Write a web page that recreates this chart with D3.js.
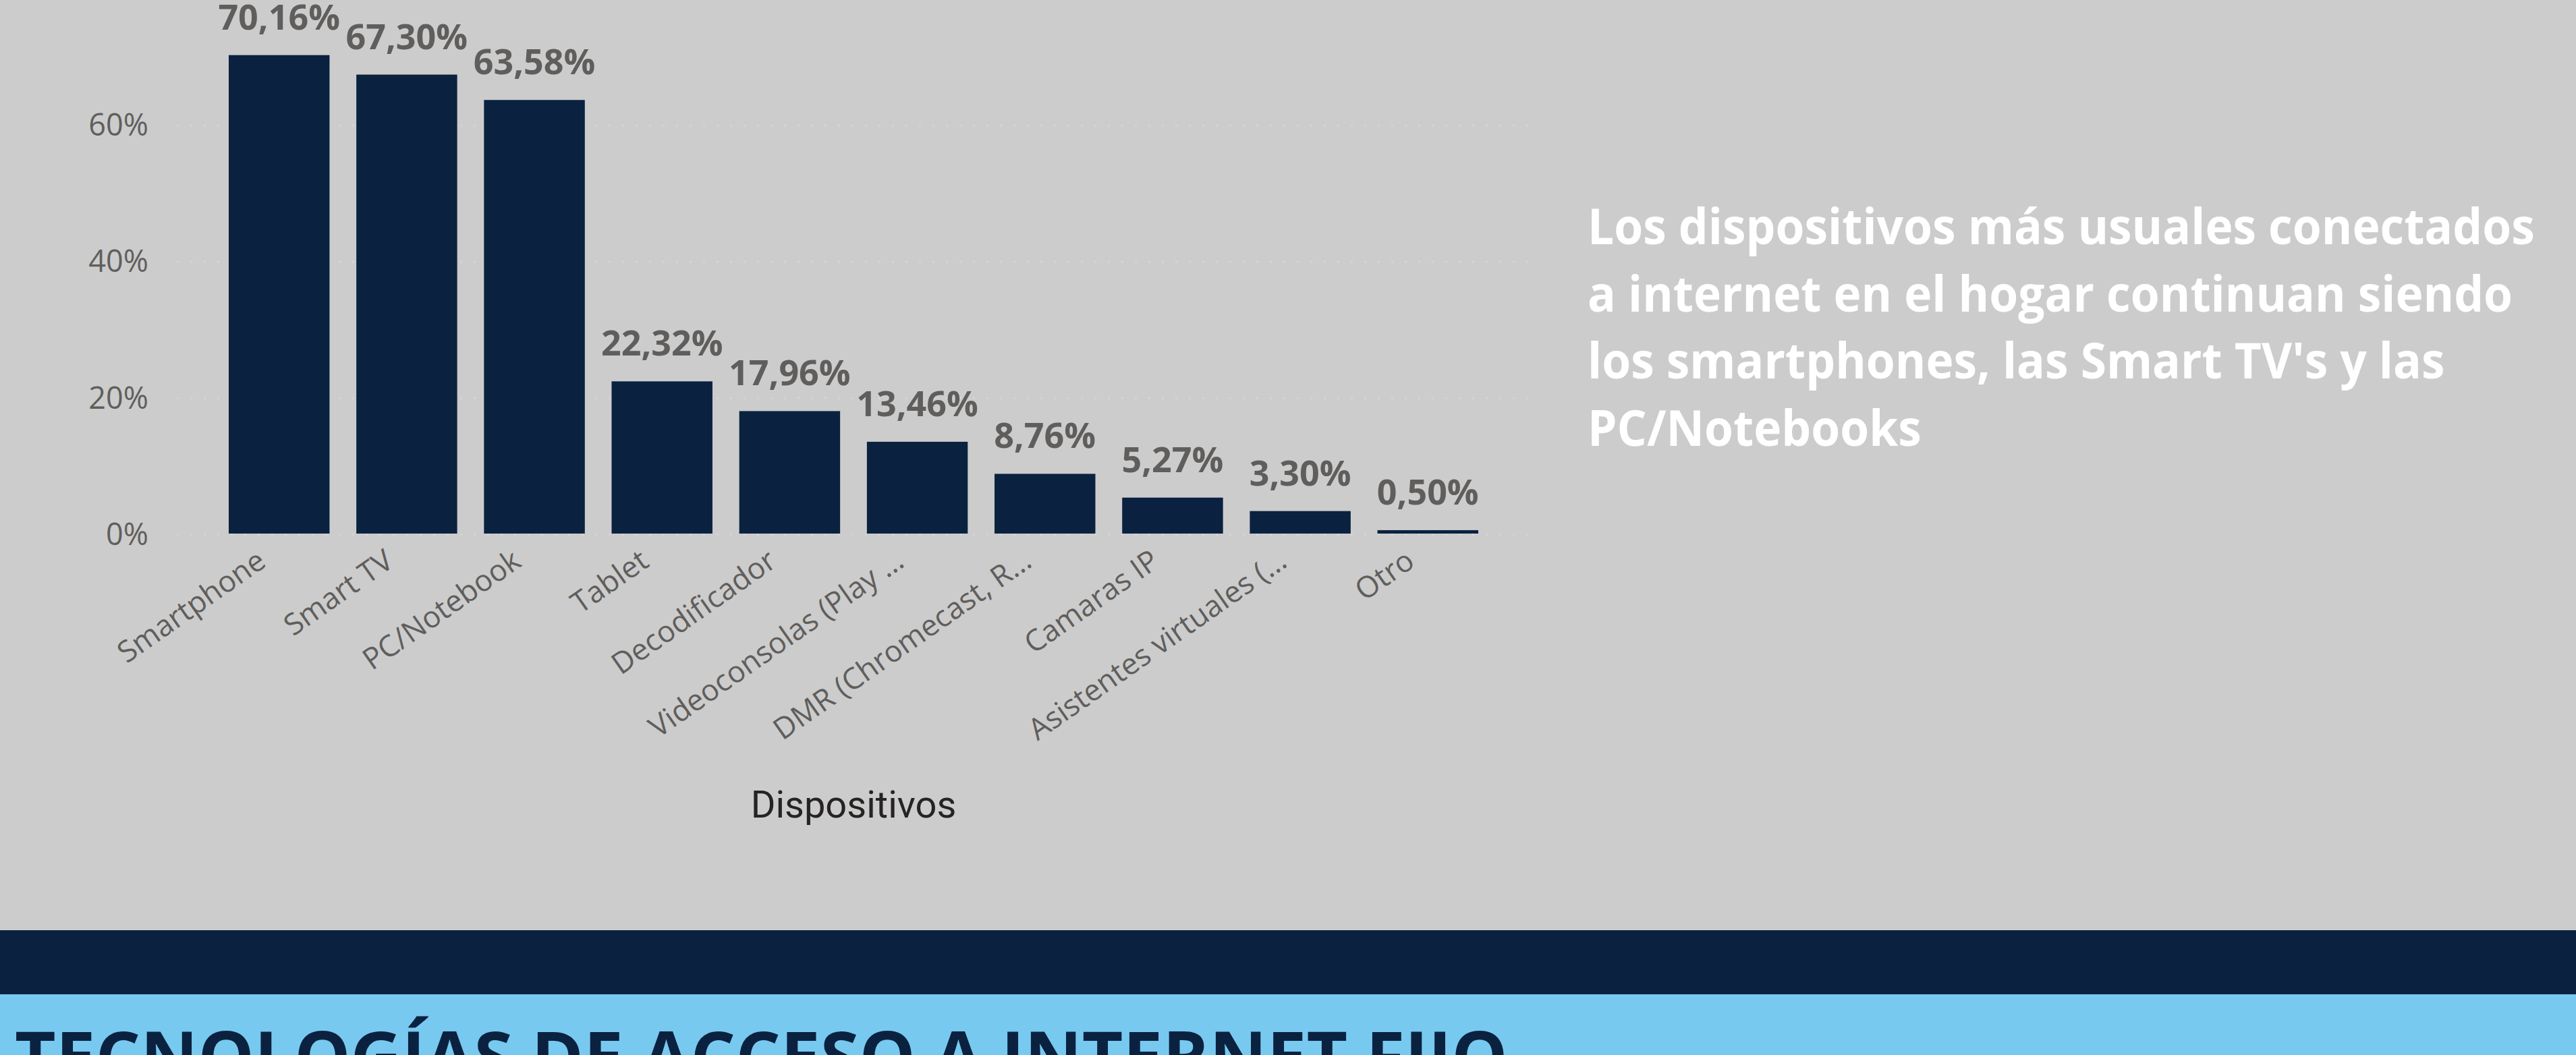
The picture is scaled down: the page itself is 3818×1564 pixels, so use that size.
<!DOCTYPE html>
<html>
<head>
<meta charset="utf-8">
<script src="https://cdn.jsdelivr.net/npm/d3@7"></script>
<style>
  html, body { margin: 0; padding: 0; background: #CCCCCC; overflow: hidden; }
  svg { display: block; }
</style>
</head>
<body>
<svg id="chart" width="3818" height="1564"></svg>
<script>
// ---- data ----
const categories = ["Smartphone", "Smart TV", "PC/Notebook", "Tablet", "Decodificador",
  "Videoconsolas (Play …", "DMR (Chromecast, R…", "Camaras IP", "Asistentes virtuales (…", "Otro"];
const values = [70.16, 67.30, 63.58, 22.32, 17.96, 13.46, 8.76, 5.27, 3.30, 0.50];
const yTicks = [0, 20, 40, 60, 80];
const axisTitle = "Dispositivos";
const noteLines = [
  "Los dispositivos más usuales conectados",
  "a internet en el hogar continuan siendo",
  "los smartphones, las Smart TV's y las",
  "PC/Notebooks"
];
const sectionTitle = "TECNOLOGÍAS DE ACCESO A INTERNET FIJO";

// ---- setup ----
const W = 3818, H = 1564;
const svg = d3.select("#chart");
const NAVY = "#0A2240";
const GRAY_TXT = "#605E5C";
const FONT = "'Open Sans', 'Noto Sans', sans-serif";

svg.append("rect").attr("width", W).attr("height", H).attr("fill", "#CCCCCC");

const locale = d3.formatLocale({decimal: ",", thousands: ".", grouping: [3], currency: ["", "€"]});
const fmtVal = v => locale.format(".2f")(v) + "%";
const fmtTick = v => locale.format("d")(v) + "%";

const x = d3.scaleBand()
  .domain(categories)
  .range([260, 2270])
  .paddingInner(0.21)
  .paddingOuter(0.4175);

const y = d3.scaleLinear()
  .domain([0, 80])
  .range([791, 791 - 808.8]);

// gridlines (dotted)
const grid = svg.append("g");
grid.selectAll("line").data(yTicks).join("line")
  .attr("x1", 262).attr("x2", 2266)
  .attr("y1", d => y(d) + 1.5).attr("y2", d => y(d) + 1.5)
  .attr("stroke", "#D5D5D5")
  .attr("stroke-width", 3)
  .attr("stroke-dasharray", "3,17");

// y axis labels
const yAxis = d3.axisLeft(y).tickValues(yTicks).tickFormat(fmtTick).tickSize(0).tickPadding(0);
const gy = svg.append("g").attr("transform", "translate(220,0)").call(yAxis);
gy.select(".domain").remove();
gy.selectAll("text")
  .attr("fill", GRAY_TXT)
  .style("font-family", FONT)
  .style("font-size", "45px")
  .attr("dy", "0.36em");

// bars
svg.append("g").selectAll("rect").data(values).join("rect")
  .attr("x", (d, i) => x(categories[i]))
  .attr("width", x.bandwidth())
  .attr("y", d => y(d))
  .attr("height", d => y(0) - y(d))
  .attr("fill", NAVY);

// value labels
svg.append("g").selectAll("text").data(values).join("text")
  .attr("x", (d, i) => x(categories[i]) + x.bandwidth() / 2)
  .attr("y", d => y(d) - 38)
  .attr("text-anchor", "middle")
  .attr("fill", GRAY_TXT)
  .style("font-family", FONT)
  .style("font-weight", "700")
  .style("font-size", "52px")
  .text(d => fmtVal(d));

// x axis labels (rotated)
const xAxis = d3.axisBottom(x).tickSize(0).tickPadding(0);
const gx = svg.append("g").attr("transform", `translate(0,${y(0)})`).call(xAxis);
gx.select(".domain").remove();
gx.selectAll(".tick text")
  .attr("y", 0).attr("dy", 0)
  .attr("text-anchor", "end")
  .attr("transform", "translate(-17,47) rotate(-35)")
  .attr("fill", GRAY_TXT)
  .style("font-family", FONT)
  .style("font-size", "44px");

// axis title
svg.append("text")
  .attr("x", (x.range()[0] + x.range()[1]) / 2)
  .attr("y", 1212)
  .attr("text-anchor", "middle")
  .attr("fill", "#252423")
  .style("font-family", "Roboto, 'DejaVu Sans', sans-serif")
  .style("font-size", "56px")
  .text(axisTitle);

// note text (right)
const note = svg.append("g");
note.selectAll("text").data(noteLines).join("text")
  .attr("x", 2353)
  .attr("y", (d, i) => 362 + i * 99.7)
  .attr("fill", "#FFFFFF")
  .style("font-family", FONT)
  .style("font-weight", "700")
  .style("font-size", "74px")
  .text(d => d);
// compress horizontally to match the reference's narrower face
const n0 = note.select("text").node();
const scaleX = 1404 / n0.getComputedTextLength();
note.attr("transform", `translate(2353,0) scale(${scaleX},1) translate(-2353,0)`);

// bottom bands
svg.append("rect").attr("x", 0).attr("y", 1379).attr("width", W).attr("height", 95).attr("fill", NAVY);
svg.append("rect").attr("x", 0).attr("y", 1474).attr("width", W).attr("height", 90).attr("fill", "#78C9F0");
const t = svg.append("text")
  .attr("x", 22)
  .attr("y", 1604)
  .attr("fill", NAVY)
  .style("font-family", FONT)
  .style("font-weight", "700")
  .style("font-size", "104px")
  .text(sectionTitle);
const tl = t.node().getComputedTextLength();
t.attr("transform", `translate(22,0) scale(${2213 / tl},1) translate(-22,0)`);
</script>
</body>
</html>
